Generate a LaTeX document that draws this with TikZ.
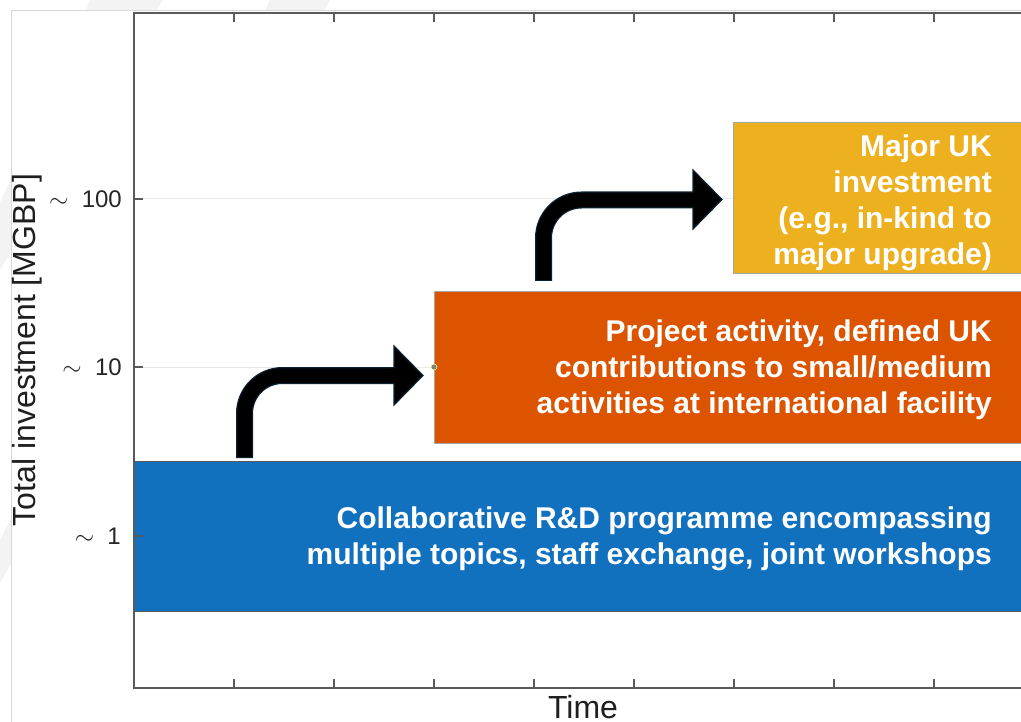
\documentclass[tikz,border=0pt]{standalone}
\usepackage{fontspec}
\setmainfont{Liberation Sans}
\definecolor{mblue}{HTML}{1171BE}
\definecolor{morange}{HTML}{DC5400}
\definecolor{myellow}{HTML}{EDB120}
\definecolor{arrowline}{HTML}{0B2330}
\definecolor{axisc}{HTML}{5A5A5A}
\definecolor{gridc}{HTML}{E8E8E8}
\definecolor{framec}{HTML}{D8D8D8}
\definecolor{wmc}{HTML}{F3F3F3}
\tikzset{
  boxst/.style={rectangle, draw=axisc, line width=1pt, inner sep=0pt, outer sep=0pt, anchor=north west},
  lbl/.style={text=white, font=\bfseries\fontsize{30}{35.8}\selectfont, align=right, inner sep=0pt, anchor=east},
  ticklbl/.style={text=black!85, font=\fontsize{24}{28}\selectfont, inner sep=0pt, anchor=east},
  axlabel/.style={text=black!88, font=\fontsize{32}{36}\selectfont, inner sep=0pt},
  axisline/.style={draw=axisc, line width=1.2pt},
  arrowout/.style={draw=arrowline, line width=17pt, rounded corners=38pt},
  arrowin/.style={draw=black, line width=14.5pt, rounded corners=38pt, shorten <=1.2pt},
  arrowhead/.style={fill=black, draw=arrowline, line width=1.2pt, line join=miter}
}
\begin{document}
\begin{tikzpicture}[x=1pt,y=-1pt]
\useasboundingbox (0,0) rectangle (1021,722);
\clip (0,0) rectangle (1021,722);
% faint watermark outside the figure frame
\fill[wmc] (90,0) -- (163,0) -- (0,270) -- (0,203) -- cycle;
\fill[wmc] (270,0) -- (330,0) -- (0,583) -- (0,540) -- cycle;
\fill[white] (11,11) rectangle (1030,730);
\draw[framec, line width=1pt] (11,730) -- (11,11) -- (1030,11);
% grid lines
\foreach \y in {199,367,536} \draw[gridc, line width=1pt] (134,\y) -- (1030,\y);
% boxes
\node[boxst, fill=mblue, minimum width=896pt, minimum height=150pt] (rdbox) at (134,461) {};
\node[boxst, fill=morange, draw=gray!70, minimum width=596pt, minimum height=151pt] (projbox) at (434,292) {};
\node[boxst, fill=myellow, draw=gray!70, minimum width=296pt, minimum height=151pt] (majbox) at (733,123) {};
% box texts
\node[lbl] (rdtext) at (992,539) {Collaborative R\&D programme encompassing\\multiple topics, staff exchange, joint workshops};
\node[lbl] (projtext) at (992,370) {Project activity, defined UK\\contributions to small/medium\\activities at international facility};
\node[lbl] (majtext) at (992,203) {Major UK\\investment\\(e.g., in-kind to\\major upgrade)};
% axes
\draw[axisline] (1030,13) -- (134,13) -- (134,688) -- (1030,688);
\foreach \x in {234,334,...,934} {
  \draw[axisline] (\x,688) -- (\x,679);
  \draw[axisline] (\x,13) -- (\x,22);
}
\foreach \y in {199,367,536} \draw[axisline] (134,\y) -- (143,\y);
% tick labels
\node[ticklbl] (t100) at (122,199) {$\sim$\ \ 100};
\node[ticklbl] (t10) at (122,367) {$\sim$\ \ 10};
\node[ticklbl] (t1) at (121,536) {$\sim$\ \ 1};
% axis labels
\node[axlabel, rotate=90] (ylab) at (27,350) {Total investment [MGBP]};
\node[axlabel] (xlab) at (583,707) {Time};
% marker dot
\node[circle, fill=gray, draw=yellow!40, line width=0.6pt, inner sep=0pt, minimum size=6pt] (dot) at (434,367) {};
% bent arrows
\coordinate (a1s) at (244.5,458);
\coordinate (a1e) at (396,375.5);
\draw[arrowout] (a1s) |- (a1e);
\draw[arrowhead] (394,346) -- (423,375.5) -- (394,405) -- cycle;
\draw[arrowin] (a1s) |- (a1e);
\coordinate (a2s) at (543.5,281);
\coordinate (a2e) at (695,200);
\draw[arrowout] (a2s) |- (a2e);
\draw[arrowhead] (693,170) -- (722,199.5) -- (693,229) -- cycle;
\draw[arrowin] (a2s) |- (a2e);
\end{tikzpicture}
\end{document}
